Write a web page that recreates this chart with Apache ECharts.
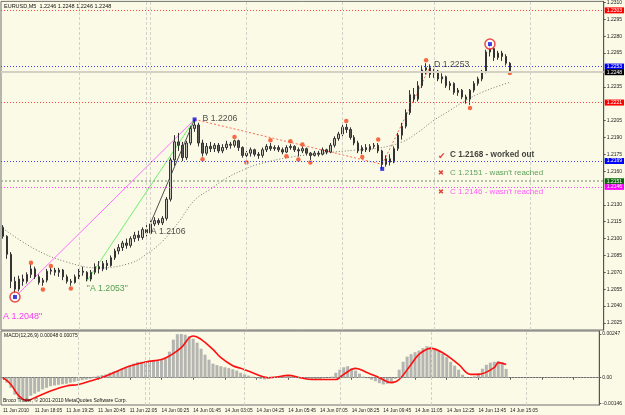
<!DOCTYPE html>
<html>
<head>
<meta charset="utf-8">
<script src="https://cdn.jsdelivr.net/npm/echarts@6.0.0/dist/echarts.min.js"></script>
<style>
  html, body { margin: 0; padding: 0; background: #fafae6; }
  #chart { width: 625px; height: 415px; }
</style>
</head>
<body>
<div id="chart"></div>
<script>
// EURUSD M5 chart, drawn as 10-minute candles: [open, close, low, high]
const candles = [
  [1.2110,1.2102,1.2100,1.2112],[1.2102,1.2086,1.2082,1.2103],[1.2086,1.2062,1.2056,1.2088],[1.2062,1.2055,1.2048,1.2066],
  [1.2055,1.2064,1.2053,1.2067],[1.2064,1.2062,1.2058,1.2068],[1.2062,1.2068,1.2060,1.2070],[1.2068,1.2073,1.2065,1.2077],
  [1.2073,1.2066,1.2064,1.2075],[1.2066,1.2061,1.2059,1.2068],[1.2061,1.2063,1.2058,1.2065],[1.2063,1.2071,1.2061,1.2073],
  [1.2071,1.2072,1.2068,1.2074],[1.2072,1.2070,1.2067,1.2074],[1.2070,1.2072,1.2066,1.2074],[1.2072,1.2066,1.2063,1.2073],
  [1.2066,1.2062,1.2060,1.2068],[1.2062,1.2061,1.2058,1.2064],[1.2061,1.2066,1.2060,1.2068],[1.2066,1.2071,1.2064,1.2073],
  [1.2071,1.2070,1.2067,1.2075],[1.2070,1.2064,1.2062,1.2071],[1.2064,1.2070,1.2062,1.2072],[1.2070,1.2075,1.2068,1.2078],
  [1.2075,1.2073,1.2069,1.2080],[1.2073,1.2078,1.2071,1.2080],[1.2078,1.2076,1.2072,1.2081],[1.2076,1.2083,1.2075,1.2085],
  [1.2083,1.2089,1.2081,1.2091],[1.2089,1.2092,1.2086,1.2095],[1.2092,1.2096,1.2089,1.2098],[1.2096,1.2094,1.2091,1.2100],
  [1.2094,1.2100,1.2092,1.2102],[1.2100,1.2103,1.2097,1.2106],[1.2103,1.2101,1.2098,1.2107],[1.2101,1.2108,1.2099,1.2110],
  [1.2108,1.2105,1.2102,1.2112],[1.2105,1.2113,1.2104,1.2116],[1.2113,1.2116,1.2111,1.2119],[1.2116,1.2114,1.2112,1.2118],
  [1.2114,1.2118,1.2112,1.2120],[1.2118,1.2135,1.2116,1.2137],[1.2135,1.2170,1.2133,1.2172],[1.2170,1.2186,1.2165,1.2192],
  [1.2186,1.2183,1.2178,1.2194],[1.2183,1.2172,1.2169,1.2186],[1.2172,1.2185,1.2170,1.2187],[1.2185,1.2198,1.2183,1.2200],
  [1.2198,1.2201,1.2195,1.2206],[1.2201,1.2185,1.2182,1.2203],[1.2185,1.2176,1.2173,1.2188],[1.2176,1.2182,1.2174,1.2185],
  [1.2182,1.2180,1.2177,1.2186],[1.2180,1.2183,1.2177,1.2185],[1.2183,1.2178,1.2176,1.2185],[1.2178,1.2181,1.2176,1.2184],
  [1.2181,1.2184,1.2179,1.2187],[1.2184,1.2183,1.2180,1.2186],[1.2183,1.2187,1.2181,1.2188],[1.2187,1.2181,1.2178,1.2188],
  [1.2181,1.2174,1.2172,1.2182],[1.2174,1.2176,1.2171,1.2178],[1.2176,1.2179,1.2173,1.2181],[1.2179,1.2175,1.2173,1.2180],
  [1.2175,1.2174,1.2171,1.2177],[1.2174,1.2179,1.2172,1.2181],[1.2179,1.2182,1.2177,1.2184],[1.2182,1.2180,1.2178,1.2185],
  [1.2180,1.2181,1.2178,1.2183],[1.2181,1.2179,1.2177,1.2183],[1.2179,1.2177,1.2175,1.2181],[1.2177,1.2181,1.2176,1.2183],
  [1.2181,1.2182,1.2179,1.2184],[1.2182,1.2179,1.2177,1.2183],[1.2179,1.2178,1.2173,1.2181],[1.2178,1.2180,1.2176,1.2182],
  [1.2180,1.2176,1.2174,1.2181],[1.2176,1.2174,1.2170,1.2177],[1.2174,1.2176,1.2173,1.2178],[1.2176,1.2175,1.2173,1.2178],
  [1.2175,1.2179,1.2174,1.2181],[1.2179,1.2177,1.2175,1.2180],[1.2177,1.2183,1.2176,1.2185],[1.2183,1.2189,1.2181,1.2191],
  [1.2189,1.2193,1.2187,1.2195],[1.2193,1.2199,1.2191,1.2201],[1.2199,1.2197,1.2194,1.2202],[1.2197,1.2190,1.2188,1.2199],
  [1.2190,1.2185,1.2183,1.2192],[1.2185,1.2178,1.2176,1.2187],[1.2178,1.2181,1.2175,1.2183],[1.2181,1.2179,1.2177,1.2184],
  [1.2179,1.2182,1.2177,1.2184],[1.2182,1.2183,1.2180,1.2185],[1.2183,1.2178,1.2176,1.2185],[1.2178,1.2166,1.2162,1.2179],
  [1.2166,1.2171,1.2164,1.2174],[1.2171,1.2168,1.2165,1.2175],[1.2168,1.2180,1.2167,1.2182],[1.2180,1.2192,1.2178,1.2194],
  [1.2192,1.2200,1.2188,1.2203],[1.2200,1.2212,1.2198,1.2215],[1.2212,1.2228,1.2210,1.2232],[1.2228,1.2224,1.2221,1.2234],
  [1.2224,1.2236,1.2222,1.2240],[1.2236,1.2250,1.2234,1.2254],[1.2250,1.2252,1.2246,1.2256],[1.2252,1.2246,1.2243,1.2255],
  [1.2246,1.2249,1.2243,1.2251],[1.2249,1.2242,1.2240,1.2250],[1.2242,1.2244,1.2238,1.2247],[1.2244,1.2236,1.2234,1.2245],
  [1.2236,1.2238,1.2232,1.2240],[1.2238,1.2230,1.2228,1.2239],[1.2230,1.2232,1.2227,1.2234],[1.2232,1.2226,1.2224,1.2233],
  [1.2226,1.2224,1.2220,1.2228],[1.2224,1.2232,1.2219,1.2233],[1.2232,1.2238,1.2230,1.2240],[1.2238,1.2242,1.2236,1.2244],
  [1.2242,1.2248,1.2240,1.2250],[1.2248,1.2266,1.2247,1.2268],[1.2266,1.2269,1.2262,1.2273],[1.2269,1.2261,1.2258,1.2270],
  [1.2261,1.2265,1.2259,1.2267],[1.2265,1.2262,1.2258,1.2267],[1.2262,1.2256,1.2254,1.2264],[1.2256,1.2249,1.2249,1.2257]
];

// time axis labels, one every 8 candles
const tickLabels = ['11 Jun 2010','11 Jun 18:05','11 Jun 19:25','11 Jun 20:45','11 Jun 22:05','14 Jun 00:25',
  '14 Jun 01:45','14 Jun 03:05','14 Jun 04:25','14 Jun 05:45','14 Jun 07:05','14 Jun 08:25','14 Jun 09:45',
  '14 Jun 11:05','14 Jun 12:25','14 Jun 13:45','14 Jun 15:05'];

// right price scale
const priceTicks = [1.2025,1.2040,1.2055,1.2070,1.2085,1.2100,1.2115,1.2130,1.2160,1.2175,1.2190,1.2205,1.2235,1.2265,1.2280,1.2295,1.2310];
const macdTicks = [0.00247, 0, -0.00146];

// horizontal levels with price tags
const levelPrices = [1.2303, 1.2253, 1.2248, 1.2221, 1.2169, 1.2151, 1.2146];

// 4-hour grid / day separator candle indexes
const gridCandles = [19, 36, 37, 61, 85, 108, 132];

// fractal dots [candle, price]
const fractals = [[7,1.20785],[12,1.20755],[58,1.21904],[67,1.21875],[72,1.21866],[75,1.21837],[86,1.22046],
  [94,1.21881],[106,1.22586],[10,1.20548],[17,1.20557],[50,1.21706],[61,1.21677],[71,1.21733],[74,1.21704],
  [77,1.21676],[90,1.21726],[117,1.22162],[127,1.22473]];

// swing points (blue squares), circled ones
const swings = [[3,1.2048],[48,1.2206],[95,1.2162],[122,1.2273]];
const circled = [[3,1.2048],[122,1.2273]];

// slow moving average (gray dotted)
const maPoints = [[0,1.2109],[8,1.20906],[16,1.20791],[24,1.20738],[32,1.20782],[36,1.20862],[40,1.20978],
  [44,1.21146],[48,1.21342],[52,1.2144],[56,1.21537],[60,1.21608],[64,1.21662],[72,1.21724],[80,1.21759],
  [88,1.21786],[94,1.21804],[100,1.2186],[104,1.21946],[108,1.22053],[112,1.22141],[116,1.2223],[120,1.22301],
  [124,1.22355],[127,1.2239]];

// wave lines
const lineA1 = [[3,1.2048],[48,1.2206]];
const lineA2 = [[21,1.2062],[48,1.2206]];
const lineA3 = [[37,1.2114],[48,1.2206]];
const lineBC = [[48,1.2206],[95,1.2166]];
const lineCD = [[95,1.2166],[107,1.2253]];

// MACD(12,26,9) histogram and signal
const macdHist = [
  -0.00006,-0.00028,-0.00057,-0.00096,-0.00119,-0.00124,-0.00128,-0.00102,-0.00090,-0.00079,-0.00066,-0.00057,
  -0.00048,-0.00044,-0.00040,-0.00037,-0.00034,-0.00028,-0.00023,-0.00018,-0.00014,-0.00011,-0.00006,0.00006,
  0.00011,0.00015,0.00019,0.00028,0.00035,0.00042,0.00051,0.00057,0.00068,0.00080,0.00088,0.00090,
  0.00094,0.00096,0.00098,0.00099,0.00102,0.00107,0.00147,0.00215,0.00246,0.00247,0.00243,0.00235,
  0.00220,0.00198,0.00164,0.00130,0.00102,0.00079,0.00071,0.00065,0.00059,0.00054,0.00048,0.00040,
  0.00028,0.00019,0.00012,0.00006,-0.00003,-0.00008,-0.00010,-0.00007,-0.00004,0.00000,0.00003,0.00007,
  0.00010,0.00007,0.00004,0.00000,-0.00002,-0.00006,-0.00008,-0.00010,-0.00007,-0.00003,0.00000,0.00006,
  0.00028,0.00045,0.00059,0.00065,0.00054,0.00040,0.00023,0.00006,-0.00003,-0.00011,-0.00020,-0.00031,
  -0.00038,-0.00034,-0.00025,-0.00006,0.00045,0.00090,0.00119,0.00133,0.00144,0.00153,0.00167,0.00178,
  0.00176,0.00167,0.00155,0.00136,0.00116,0.00090,0.00068,0.00045,0.00017,0.00000,0.00001,0.00008,
  0.00025,0.00051,0.00073,0.00085,0.00090,0.00094,0.00088,0.00050
];
const macdSignal = [[0,0],[2,-0.00038],[4,-0.00103],[6,-0.00128],[9,-0.00103],[12,-0.00075],[16,-0.00047],
  [19,-0.00038],[22,-0.00019],[26,0.00010],[29,0.00038],[32,0.00066],[36,0.00089],[40,0.00103],[42,0.00123],
  [45,0.00170],[47,0.00226],[48,0.00236],[50,0.00217],[53,0.00160],[55,0.00113],[58,0.00068],[60,0.00053],
  [63,0.00028],[67,0],[69,0.00004],[72,0.00013],[75,0],[78,-0.0001],[84,-0.0001],[86,0.00019],[89,0.00053],
  [92,0.00028],[95,0],[98,-0.00028],[100,-0.0001],[103,0.00075],[105,0.00132],[108,0.00166],[111,0.00141],
  [115,0.00075],[118,0.00019],[120,0.00019],[124,0.00057],[125,0.00085],[127,0.00075]];

const bg = '#fafae6';
const font = 'Liberation Sans, Arial, sans-serif';
const slots = Array.from({ length: 151 }, (_, i) => i);
const isTick = (i) => i % 8 === 0;

const levelStyle = [
  { tag: '#ff0000', line: '#ff4040', type: [1, 2], width: 1 },
  { tag: '#0000ff', line: '#4040ff', type: [1, 2], width: 1 },
  { tag: '#000000', line: '#d4d0c4', type: 'solid', width: 2 },
  { tag: '#ff0000', line: '#ff4040', type: [1, 2], width: 1 },
  { tag: '#0000ff', line: '#4040ff', type: [1, 2], width: 1 },
  { tag: '#0a6a0a', line: '#9cb090', type: [2, 2], width: 1.5 },
  { tag: '#ff00ff', line: '#ff44ff', type: [1, 2], width: 1 }
];

// one dummy series per level so each markLine keeps its own colour
const levelSeries = levelPrices.map((p, k) => ({
  type: 'line', data: [], xAxisIndex: 0, yAxisIndex: 0, z: 1,
  markLine: {
    symbol: 'none', silent: true, animation: false, precision: 6,
    lineStyle: { color: levelStyle[k].line, type: levelStyle[k].type, width: levelStyle[k].width },
    label: {
      show: true, position: 'end', distance: 1, formatter: p.toFixed(4),
      backgroundColor: levelStyle[k].tag, color: '#fff', fontSize: 5, fontFamily: font,
      padding: [1, 2, 0, 2]
    },
    data: [{ yAxis: p }]
  }
}));

const gridSeries = (axis) => ({
  type: 'line', data: [], xAxisIndex: axis, yAxisIndex: axis, z: 0,
  markLine: {
    symbol: 'none', silent: true, animation: false, precision: 6,
    label: { show: false },
    lineStyle: { color: '#d2d2c8', type: [3, 2], width: 1 },
    data: gridCandles.map(i => ({ xAxis: i }))
  }
});

const segment = (data, color, type) => ({
  type: 'line', data, xAxisIndex: 0, yAxisIndex: 0, symbol: 'none', z: 2,
  lineStyle: { color, width: 1, type }, silent: true
});

const note = (i, p, text, color, size, weight, fam) => ({
  value: [i, p],
  label: { formatter: text, color, fontSize: size, fontWeight: weight || 'normal', fontFamily: fam || font }
});

const notes = [
  note(0, 1.20311, 'A 1.2048"', '#ff00ff', 9),
  note(21, 1.20555, '"A 1.2053"', '#2a8a2a', 8.7),
  note(37, 1.21062, 'A 1.2106', '#222', 8.7),
  note(50, 1.2207, 'B 1.2206', '#222', 8.7),
  note(108, 1.2255, 'D 1.2253', '#222', 8.7),
  note(109, 1.21733, '✔', '#e01010', 9, 'normal', 'DejaVu Sans'),
  note(112, 1.21742, 'C 1.2168 - worked out', '#111', 8.2, 'bold'),
  note(109, 1.21582, '✖', '#e01010', 7, 'normal', 'DejaVu Sans'),
  note(112, 1.21582, "C 1.2151 - wasn't reached", '#3a8a3a', 8),
  note(109, 1.21413, '✖', '#e01010', 7, 'normal', 'DejaVu Sans'),
  note(112, 1.21413, "C 1.2146 - wasn't reached", '#ff33ff', 8)
];

const chart = echarts.init(document.getElementById('chart'));
chart.setOption({
  backgroundColor: bg,
  animation: false,
  grid: [
    { left: 1, right: 20, top: 1, height: 329, show: true, borderColor: '#707070', borderWidth: 1, backgroundColor: bg },
    { left: 1, right: 20, top: 331, height: 74, show: true, borderColor: '#707070', borderWidth: 1, backgroundColor: bg }
  ],
  xAxis: [
    { type: 'category', gridIndex: 0, data: slots, axisLine: { show: false }, axisTick: { show: false },
      axisLabel: { show: false }, splitLine: { show: false } },
    { type: 'category', gridIndex: 1, data: slots,
      axisLine: { show: true, lineStyle: { color: '#707070' } },
      axisTick: { show: true, interval: (i) => isTick(i), length: 2, alignWithLabel: true, lineStyle: { color: '#555' } },
      axisLabel: { interval: (i) => isTick(i), formatter: (v, i) => (isTick(i) ? (tickLabels[i / 8] || '') : ''),
        align: 'left', fontSize: 4.8, color: '#222', margin: 3, fontFamily: font },
      splitLine: { show: false } }
  ],
  yAxis: [
    { type: 'value', gridIndex: 0, position: 'right', min: 1.201868, max: 1.2311,
      splitLine: { show: false },
      axisLine: { show: true, lineStyle: { color: '#555' } },
      axisTick: { show: true, length: 2, customValues: priceTicks, lineStyle: { color: '#555' } },
      axisLabel: { customValues: priceTicks, formatter: (v) => v.toFixed(4), fontSize: 5, color: '#222', margin: 3, fontFamily: font } },
    { type: 'value', gridIndex: 1, position: 'right', min: -0.001543, max: 0.00264,
      splitLine: { show: false },
      axisLine: { show: true, lineStyle: { color: '#555' } },
      axisTick: { show: true, length: 2, customValues: macdTicks, lineStyle: { color: '#555' } },
      axisLabel: { customValues: macdTicks, formatter: (v) => (v === 0 ? '0.00' : v.toFixed(5)), fontSize: 5, color: '#222', margin: 3, fontFamily: font } }
  ],
  graphic: [
    { type: 'text', left: 4, top: 3, z: 50, style: { text: 'EURUSD,M5  1.2246 1.2248 1.2246 1.2248', fontSize: 5.5, fill: '#111', fontFamily: font } },
    { type: 'text', left: 4, top: 333, z: 50, style: { text: 'MACD(12,26,9) 0.00048 0.00075', fontSize: 5, fill: '#111', fontFamily: font } },
    { type: 'text', left: 3, top: 398, z: 50, style: { text: 'Broco Trader, © 2001-2010 MetaQuotes Software Corp.', fontSize: 5, fill: '#111', fontFamily: font } }
  ],
  series: [
    gridSeries(0),
    gridSeries(1),
    ...levelSeries,
    { type: 'line', data: [], xAxisIndex: 1, yAxisIndex: 1, z: 1,
      markLine: { symbol: 'none', silent: true, animation: false, precision: 6, label: { show: false },
        lineStyle: { color: '#a0a0a0', type: [1, 2], width: 1 }, data: [{ yAxis: 0 }] } },
    { type: 'line', data: maPoints, xAxisIndex: 0, yAxisIndex: 0, symbol: 'none', smooth: 0.4, z: 2,
      lineStyle: { color: '#77776a', width: 1, type: [1, 2] } },
    segment(lineA1, '#ff70ff', 'solid'),
    segment(lineA2, '#70ee70', 'solid'),
    segment(lineA3, '#505050', 'solid'),
    segment(lineBC, '#ff6a55', [2, 2]),
    segment(lineCD, '#ff6a55', [2, 2]),
    { type: 'candlestick', data: candles, xAxisIndex: 0, yAxisIndex: 0, z: 3, barWidth: 2,
      itemStyle: { color: '#c4c4bc', color0: '#5a5a58', borderColor: '#333', borderColor0: '#333', borderWidth: 1 } },
    { type: 'scatter', data: fractals, xAxisIndex: 0, yAxisIndex: 0, symbol: 'circle', symbolSize: 4.5, z: 4,
      itemStyle: { color: '#f5451a' } },
    { type: 'scatter', data: circled, xAxisIndex: 0, yAxisIndex: 0, symbol: 'circle', symbolSize: 10, z: 4,
      itemStyle: { color: '#ffffff', borderColor: '#e82020', borderWidth: 1.5 } },
    { type: 'scatter', data: swings, xAxisIndex: 0, yAxisIndex: 0, symbol: 'rect', symbolSize: 4, z: 5,
      itemStyle: { color: '#1010e0' } },
    { type: 'scatter', data: notes, xAxisIndex: 0, yAxisIndex: 0, symbolSize: 0, z: 6, silent: true,
      label: { show: true, position: 'right', distance: 0 } },
    // MACD
    { type: 'bar', data: macdHist, xAxisIndex: 1, yAxisIndex: 1, barWidth: 3, z: 2,
      itemStyle: { color: '#b4b4b0' } },
    { type: 'line', data: macdSignal, xAxisIndex: 1, yAxisIndex: 1, symbol: 'none', smooth: 0.4, z: 3,
      lineStyle: { color: '#ff1010', width: 1.6 } }
  ]
});
</script>
</body>
</html>
